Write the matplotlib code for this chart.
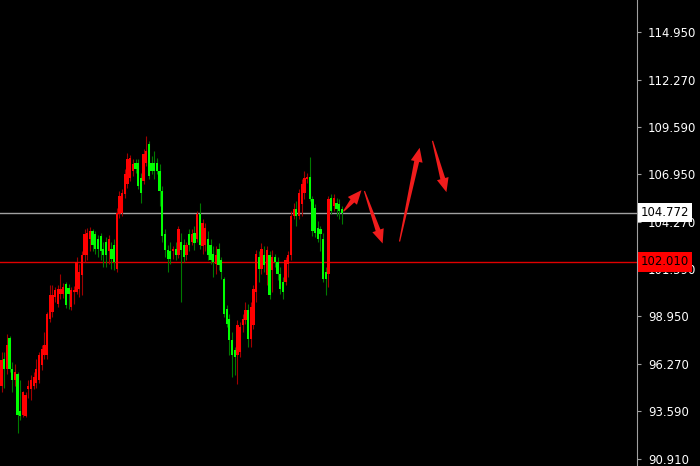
import matplotlib
matplotlib.use('Agg')
import numpy as np
import matplotlib.pyplot as plt
from matplotlib.patches import Polygon
from matplotlib.transforms import IdentityTransform

# candle data
opens = [95.04, 96.52, 95.95, 97.71, 95.95, 95.38, 95.67, 93.63, 93.40, 93.34,
         94.87, 94.82, 95.04, 95.21, 95.38, 96.18, 96.74, 96.74, 98.79, 99.18,
         100.03, 99.64, 100.20, 100.20, 100.77, 100.54, 99.47, 100.32, 100.32, 100.49,
         101.28, 102.41, 102.41, 103.32, 103.72, 103.55, 103.27, 103.44, 102.75, 103.15,
         102.59, 102.75, 102.98, 101.62, 104.68, 104.74, 105.82, 106.38, 106.72, 107.12,
         107.57, 107.57, 106.72, 106.55, 107.57, 108.65, 107.57, 107.57, 107.57, 107.12,
         105.99, 103.55, 102.70, 102.59, 102.59, 102.75, 102.41, 103.15, 102.98, 102.41,
         103.55, 103.15, 103.61, 103.32, 104.68, 102.87, 102.98, 103.32, 102.98, 102.47,
         101.90, 102.75, 102.13, 101.05, 99.35, 98.79, 97.60, 97.03, 96.74, 96.91,
         98.45, 98.73, 99.30, 97.65, 98.45, 100.32, 102.30, 101.62, 102.41, 101.28,
         102.41, 101.56, 102.30, 102.02, 101.34, 100.88, 100.88, 101.90, 102.41, 104.57,
         104.97, 104.57, 105.25, 105.87, 106.67, 106.78, 105.53, 105.02, 103.89, 103.83,
         103.32, 101.45, 101.34, 105.59, 105.14, 105.31, 105.25, 104.97]
closes = [96.46, 95.95, 97.31, 95.95, 95.38, 95.78, 93.40, 93.34, 94.65, 94.53,
          95.04, 95.33, 95.50, 95.95, 96.74, 97.08, 97.31, 99.07, 100.15, 100.15,
          100.43, 100.49, 100.49, 100.60, 99.58, 100.20, 100.43, 100.43, 102.02, 101.45,
          102.41, 103.55, 103.61, 103.72, 102.98, 102.75, 102.75, 102.59, 102.41, 102.41,
          103.32, 102.19, 102.02, 104.74, 105.70, 105.87, 106.95, 107.80, 107.86, 107.52,
          107.23, 106.27, 105.87, 108.08, 108.26, 106.84, 107.12, 107.12, 107.12, 105.99,
          103.44, 102.70, 102.19, 102.19, 102.75, 102.41, 103.83, 102.70, 102.30, 102.98,
          102.98, 103.55, 103.04, 104.68, 102.98, 104.17, 103.89, 102.41, 102.13, 102.02,
          102.41, 101.85, 101.45, 99.07, 98.50, 97.60, 96.74, 96.63, 98.45, 98.33,
          98.79, 99.30, 97.65, 99.47, 100.49, 102.47, 101.62, 102.75, 101.85, 102.70,
          100.15, 102.30, 102.02, 101.34, 100.49, 100.32, 102.13, 102.41, 104.57, 104.97,
          104.57, 105.87, 106.38, 106.72, 106.78, 105.53, 103.72, 103.61, 103.32, 103.55,
          101.05, 101.05, 105.53, 104.85, 105.59, 104.97, 104.85, 104.77]
highs = [96.91, 96.91, 97.94, 97.82, 96.35, 96.23, 95.78, 95.33, 94.76, 94.65,
         95.38, 95.61, 95.78, 96.52, 96.91, 97.31, 98.05, 99.18, 100.71, 100.71,
         100.60, 100.71, 101.34, 100.83, 100.88, 100.77, 100.60, 100.66, 102.30, 101.90,
         102.59, 103.83, 103.89, 103.95, 103.83, 103.72, 103.49, 103.61, 103.15, 103.38,
         103.49, 103.15, 103.27, 105.02, 105.99, 106.10, 107.23, 108.14, 108.03, 107.80,
         107.80, 107.80, 107.01, 108.37, 109.11, 108.82, 107.97, 108.26, 107.86, 107.52,
         106.27, 103.83, 102.98, 103.15, 102.87, 103.15, 104.00, 103.61, 103.27, 103.15,
         103.83, 103.83, 104.00, 104.85, 105.31, 104.40, 104.17, 103.72, 103.27, 102.87,
         102.87, 103.04, 102.30, 101.17, 99.58, 99.07, 98.05, 97.20, 98.73, 98.62,
         99.07, 99.75, 99.64, 99.75, 100.71, 102.70, 102.59, 103.04, 102.87, 102.87,
         102.59, 102.70, 102.47, 102.30, 101.73, 101.17, 102.30, 102.59, 104.85, 105.31,
         105.42, 106.10, 106.67, 107.12, 107.01, 107.91, 105.70, 105.25, 104.29, 104.00,
         103.61, 101.73, 105.70, 105.82, 105.82, 105.59, 105.53, 105.14]
lows = [94.65, 94.93, 95.67, 95.78, 94.65, 95.04, 92.38, 93.12, 93.29, 93.29,
        94.36, 94.25, 94.82, 94.93, 95.16, 95.89, 96.52, 96.52, 98.62, 98.90,
        99.75, 99.47, 99.92, 99.98, 99.41, 99.35, 99.30, 99.64, 100.20, 100.03,
        100.15, 102.02, 102.13, 102.59, 102.59, 102.47, 102.30, 102.13, 101.73, 101.73,
        101.90, 101.62, 101.56, 101.45, 104.46, 104.57, 105.59, 106.16, 106.55, 106.84,
        107.01, 106.10, 105.31, 106.38, 107.40, 106.67, 106.95, 106.67, 106.95, 105.14,
        103.15, 102.30, 101.45, 101.90, 102.19, 102.13, 102.24, 99.75, 102.02, 102.13,
        102.59, 102.93, 102.70, 103.15, 102.75, 102.47, 102.59, 102.13, 101.90, 101.17,
        101.34, 101.56, 101.05, 98.90, 98.33, 96.74, 95.50, 95.61, 95.10, 96.63,
        98.05, 98.50, 97.20, 97.20, 98.22, 99.75, 100.88, 101.34, 101.45, 100.71,
        99.92, 100.32, 101.73, 101.00, 100.20, 99.92, 100.71, 101.17, 102.13, 104.40,
        104.00, 104.40, 104.57, 105.53, 106.44, 105.42, 103.44, 103.38, 103.15, 102.59,
        100.88, 100.15, 100.60, 104.68, 104.85, 104.57, 104.40, 104.12]

price_ticks = [114.950, 112.270, 109.590, 106.950, 104.270, 101.590, 98.950, 96.270, 93.590, 90.910]
bid_line = 104.772
level_line = 102.010

# hand drawn arrows: (bar, price) start -> end
arrows = [((127.6, 104.85), (134.3, 106.04)),
          ((135.4, 105.99), (142.2, 103.04)),
          ((148.5, 103.15), (156.0, 108.43)),
          ((160.8, 108.82), (166.0, 105.93))]

o = np.array(opens); c = np.array(closes); h = np.array(highs); l = np.array(lows)
x = np.arange(len(o))
up = c >= o

fig = plt.figure(figsize=(7, 4.66), dpi=100, facecolor='black')
ax = fig.add_axes([0, 0, 637 / 700, 1])
ax.set_facecolor('black')
ax.set_xlim(-0.56, 237.1)
ax.set_ylim(90.51, 116.75)

# wicks
ax.vlines(x[up], l[up], h[up], color='#a00000', lw=0.8, zorder=2)
ax.vlines(x[~up], l[~up], h[~up], color='#007a00', lw=0.8, zorder=2)
# bodies
body = np.maximum(np.abs(c - o), 0.06)
ax.bar(x[up], body[up], bottom=np.minimum(o, c)[up], width=0.85, color='#ff0000',
       linewidth=0, antialiased=False, zorder=3)
ax.bar(x[~up], body[~up], bottom=np.minimum(o, c)[~up], width=0.85, color='#00ff00',
       linewidth=0, antialiased=False, zorder=3)

ax.axhline(bid_line, color='#a0a0a0', lw=1, zorder=1)
ax.axhline(level_line, color='#e00000', lw=1, zorder=1)

# axes style
for s in ['top', 'bottom', 'left']:
    ax.spines[s].set_visible(False)
ax.spines['right'].set_color('#a0a0a0')
ax.set_xticks([])
ax.yaxis.tick_right()
ax.set_yticks(price_ticks)
ax.set_yticklabels(['%.3f' % v for v in price_ticks])
ax.tick_params(axis='y', colors='#a0a0a0', labelcolor='white', length=3, width=0.8,
               direction='out', pad=5, labelsize=8.4)

tr = ax.get_yaxis_transform()
ax.text(1.006, bid_line, '%.3f' % bid_line, transform=tr, va='center', ha='left',
        fontsize=8.4, color='black', clip_on=False, zorder=10,
        bbox=dict(boxstyle='square,pad=0.28', fc='white', ec='none'))
ax.text(1.006, level_line, '%.3f' % level_line, transform=tr, va='center', ha='left',
        fontsize=8.4, color='black', clip_on=False, zorder=10,
        bbox=dict(boxstyle='square,pad=0.28', fc='#ff0000', ec='none'))

# tapered red arrows
for (x0, y0), (x1, y1) in arrows:
    p0 = ax.transData.transform((x0, y0))
    p1 = ax.transData.transform((x1, y1))
    d = p1 - p0
    L = np.hypot(*d)
    d = d / L
    n = np.array([-d[1], d[0]])
    hl, hw, sw = 14, 12, 5
    base = p1 - d * hl
    pts = [p0 + n * 0.6, base + n * sw / 2, base + n * hw / 2, p1,
           base - n * hw / 2, base - n * sw / 2, p0 - n * 0.6]
    fig.patches.append(Polygon(pts, closed=True, transform=IdentityTransform(),
                               fc='#f01c1c', ec='none', zorder=20))

fig.savefig('out.png', dpi=100, facecolor='black')
